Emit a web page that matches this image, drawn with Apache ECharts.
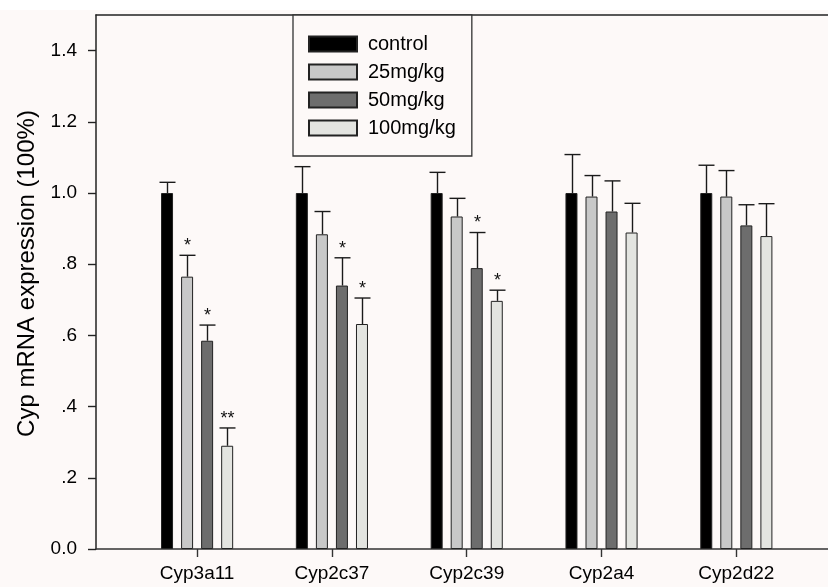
<!DOCTYPE html>
<html>
<head>
<meta charset="utf-8">
<script src="https://cdn.jsdelivr.net/npm/echarts@6/dist/echarts.min.js"></script>
<style>
  html, body { margin: 0; padding: 0; }
  #chart {
    width: 828px;
    height: 587px;
    background: linear-gradient(to bottom, #ffffff 0px, #ffffff 10px, #fdf9f8 10px);
  }
</style>
</head>
<body>
<div id="chart"></div>
<script>
// genes on the x axis
const genes = ["Cyp3a11", "Cyp2c37", "Cyp2c39", "Cyp2a4", "Cyp2d22"];
const groups = ["control", "25mg/kg", "50mg/kg", "100mg/kg"];

// mean relative expression per group
const control = [1.0, 1.0, 1.0, 1.0, 1.0];
const dose25 = [0.765, 0.884, 0.934, 0.99, 0.99];
const dose50 = [0.585, 0.74, 0.789, 0.948, 0.909];
const dose100 = [0.29, 0.632, 0.697, 0.889, 0.879];

// upper error bars (SD)
const controlErr = [0.03, 0.074, 0.058, 0.108, 0.078];
const dose25Err = [0.06, 0.064, 0.051, 0.059, 0.073];
const dose50Err = [0.044, 0.078, 0.1, 0.086, 0.058];
const dose100Err = [0.05, 0.073, 0.03, 0.082, 0.091];

// significance marks
const controlSig = ["", "", "", "", ""];
const dose25Sig = ["*", "", "", "", ""];
const dose50Sig = ["*", "*", "*", "", ""];
const dose100Sig = ["**", "*", "*", "", ""];

const yTicks = [0, 0.2, 0.4, 0.6, 0.8, 1.0, 1.2, 1.4];

const means = [control, dose25, dose50, dose100];
const errs = [controlErr, dose25Err, dose50Err, dose100Err];
const sigs = [controlSig, dose25Sig, dose50Sig, dose100Sig];
const fills = ["#000000", "#c8c8c8", "#6d6d6d", "#e3e4e0"];

const barW = 12;
const barGapPx = 8;
const font = "Liberation Sans";

const chart = echarts.init(document.getElementById("chart"), null, { renderer: "canvas" });

function errorRenderer(k) {
  const offset = (k - 1.5) * (barW + barGapPx);
  return function (params, api) {
    const x = api.value(0);
    const v = api.value(1);
    const e = api.value(2);
    const base = api.coord([x, v]);
    const top = api.coord([x, v + e]);
    const cx = Math.round(base[0] + offset) + 0.5;
    const lineStyle = { stroke: "#1a1a1a", lineWidth: 1.4 };
    const children = [
      { type: "line", shape: { x1: cx, y1: base[1], x2: cx, y2: top[1] }, style: lineStyle },
      { type: "line", shape: { x1: cx - 8, y1: top[1], x2: cx + 8, y2: top[1] }, style: lineStyle }
    ];
    const s = sigs[k][params.dataIndex];
    if (s) {
      children.push({
        type: "text",
        x: cx,
        y: top[1] - 9,
        style: { text: s, fontSize: 18, fontFamily: font, fill: "#111", align: "center", verticalAlign: "middle" }
      });
    }
    return { type: "group", children: children };
  };
}

const series = [];
groups.forEach(function (name, k) {
  series.push({
    name: name,
    type: "bar",
    barWidth: barW,
    barGap: (barGapPx / barW * 100).toFixed(0) + "%",
    itemStyle: { color: fills[k], borderColor: "#222", borderWidth: 1 },
    data: genes.map(function (g, i) { return [i + 1, means[k][i]]; }),
    z: 2
  });
});
groups.forEach(function (name, k) {
  series.push({
    type: "custom",
    renderItem: errorRenderer(k),
    encode: { x: 0, y: 1 },
    data: genes.map(function (g, i) { return [i + 1, means[k][i], errs[k][i]]; }),
    z: 5,
    silent: true
  });
});

chart.setOption({
  animation: false,
  backgroundColor: "transparent",
  textStyle: { fontFamily: font },
  grid: { left: 96, right: 0, top: 15, bottom: 38 },
  legend: {
    data: groups,
    orient: "vertical",
    left: 293,
    top: 15,
    itemWidth: 48,
    itemHeight: 15,
    itemGap: 8,
    padding: [19, 16, 18, 15],
    borderColor: "#333",
    borderWidth: 1.3,
    borderRadius: 0,
    backgroundColor: "#fdf9f8",
    icon: "rect",
    selectedMode: false,
    textStyle: { fontSize: 20, color: "#000", fontFamily: font, padding: [0, 0, 0, 6] }
  },
  xAxis: [
    {
      type: "value",
      min: 0.25,
      max: 5.68,
      splitLine: { show: false },
      axisLine: { lineStyle: { color: "#333", width: 1.5 } },
      axisTick: { show: true, length: 8, inside: false, lineStyle: { color: "#333", width: 1.4 }, customValues: [1, 2, 3, 4, 5] },
      axisLabel: {
        customValues: [1, 2, 3, 4, 5],
        formatter: function (v) { return genes[Math.round(v) - 1] || ""; },
        fontSize: 19,
        color: "#000",
        margin: 15
      }
    },
    {
      type: "value",
      position: "top",
      min: 0.25,
      max: 5.68,
      splitLine: { show: false },
      axisLine: { show: true, onZero: false, lineStyle: { color: "#222", width: 1.5 } },
      axisTick: { show: false },
      axisLabel: { show: false }
    }
  ],
  yAxis: {
    type: "value",
    min: 0,
    max: 1.5,
    interval: 0.2,
    name: "Cyp mRNA expression (100%)",
    nameLocation: "middle",
    nameGap: 50,
    nameTextStyle: { fontSize: 24, color: "#000", padding: [0, 0, 0, 17] },
    splitLine: { show: false },
    axisLine: { show: true, lineStyle: { color: "#222", width: 1.5 } },
    axisTick: { show: true, length: 8, lineStyle: { color: "#222", width: 1.4 }, customValues: yTicks },
    axisLabel: {
      customValues: yTicks,
      fontSize: 19,
      color: "#000",
      margin: 19,
      formatter: function (v) {
        const s = v.toFixed(1);
        return (v > 0 && v < 1) ? s.slice(1) : s;
      }
    }
  },
  series: series
});
</script>
</body>
</html>
